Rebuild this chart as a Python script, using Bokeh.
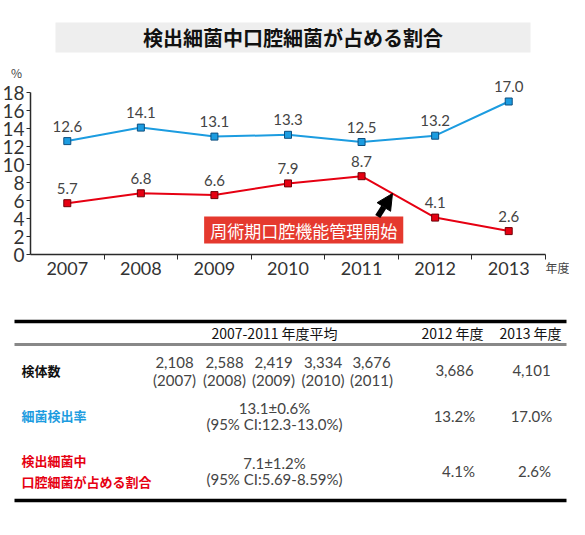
from bokeh.plotting import figure
from bokeh.models import Range1d, FixedTicker, Arrow, NormalHead, ColumnDataSource
from bokeh.core.properties import value
from bokeh.embed import file_html
from bokeh.resources import INLINE

# ---------------- data ----------------
years = ["2007", "2008", "2009", "2010", "2011", "2012", "2013"]
bacteria_detection_rate = [12.6, 14.1, 13.1, 13.3, 12.5, 13.2, 17.0]
oral_bacteria_share = [5.7, 6.8, 6.6, 7.9, 8.7, 4.1, 2.6]
y_ticks = [0, 2, 4, 6, 8, 10, 12, 14, 16, 18]

title_text = "検出細菌中口腔細菌が占める割合"
annotation_text = "周術期口腔機能管理開始"
y_unit = "%"
x_unit = "年度"

table_header = ["2007-2011 年度平均", "2012 年度", "2013 年度"]
row_labels = ["検体数", "細菌検出率", "検出細菌中", "口腔細菌が占める割合"]
specimen_counts_0711 = ["2,108", "2,588", "2,419", "3,334", "3,676"]
specimen_years_0711 = ["(2007)", "(2008)", "(2009)", "(2010)", "(2011)"]
specimen_counts_1213 = ["3,686", "4,101"]
detection_mean_ci = ["13.1±0.6%", "(95% CI:12.3-13.0%)"]
detection_1213 = ["13.2%", "17.0%"]
share_mean_ci = ["7.1±1.2%", "(95% CI:5.69-8.59%)"]
share_1213 = ["4.1%", "2.6%"]

# ---------------- style ----------------
CJK = "Noto Sans CJK JP"
NUM = "Lato"
BLUE = "#1c9ce0"
BLUE_EDGE = "#0d4f80"
RED = "#e60012"
RED_EDGE = "#6e0008"
BOX_RED = "#e5392e"
AXIS = "#2a2a2a"
TXT = "#444444"

W, H = 569, 519
LEFT = 30          # pixel x of the y axis
AXIS_Y = 254       # pixel y of the x axis
AXIS_END = 545     # pixel x where the x axis ends
PX = (AXIS_END - LEFT) / 7.0
PY = 9.0


def dx(px):          # pixel -> data x
    return -0.5 + (px - LEFT) / PX


def dxr(px):         # reference pixel (75 px per year) -> data x
    return -0.5 + (px - 30) / 75.0


def dy(py):          # pixel -> data y
    return (AXIS_Y - py) / PY


x_idx = list(range(len(years)))
src = ColumnDataSource(dict(
    x=x_idx,
    blue=bacteria_detection_rate,
    red=oral_bacteria_share,
    blue_lbl=[f"{v:.1f}" for v in bacteria_detection_rate],
    red_lbl=[f"{v:.1f}" for v in oral_bacteria_share],
))

p = figure(width=W, height=H,
           x_range=Range1d(dx(0), dx(W)), y_range=Range1d(dy(H), dy(0)),
           output_backend="svg", toolbar_location=None, min_border=0)
p.outline_line_color = None
p.xgrid.visible = False
p.ygrid.visible = False
p.background_fill_color = "white"

# ---- axes, drawn at fixed locations inside the frame ----
xa = p.xaxis[0]
xa.fixed_location = 0
xa.ticker = FixedTicker(ticks=x_idx, minor_ticks=[i + 0.5 for i in x_idx])
xa.major_label_overrides = {i: y for i, y in enumerate(years)}
xa.bounds = (-0.5, len(years) - 0.5)
xa.major_tick_out = 0
xa.major_tick_in = 0
xa.minor_tick_out = 5
xa.minor_tick_in = 0
xa.minor_tick_line_color = AXIS
xa.axis_line_color = AXIS
xa.axis_line_width = 1.5
xa.major_label_standoff = 2
xa.major_label_text_font = NUM
xa.major_label_text_font_size = "18px"
xa.major_label_text_color = "#333333"

ya = p.yaxis[0]
ya.fixed_location = -0.5
ya.ticker = FixedTicker(ticks=y_ticks)
ya.bounds = (0, 18)
ya.major_tick_out = 4
ya.major_tick_in = 0
ya.minor_tick_out = 0
ya.minor_tick_in = 0
ya.major_tick_line_color = AXIS
ya.axis_line_color = AXIS
ya.axis_line_width = 1.5
ya.major_label_standoff = 2
ya.major_label_text_font = NUM
ya.major_label_text_font_size = "19px"
ya.major_label_text_color = "#333333"

# ---- title ----
p.quad(left=[dx(55)], right=[dx(530)], top=[dy(22)], bottom=[dy(52)],
       fill_color="#eeeeee", line_color=None)
p.text(x=[dx(292.5)], y=[dy(37)], text=[title_text], text_align="center",
       text_baseline="middle", text_font=value(CJK), text_font_size="20px",
       text_font_style="bold", text_color="#111111")

# ---- units ----
p.text(x=[dx(16)], y=[dy(72)], text=[y_unit], text_align="center", text_baseline="middle",
       text_font=value(CJK), text_font_size="12px", text_color=TXT)
p.text(x=[dx(557)], y=[dy(267)], text=[x_unit], text_align="center", text_baseline="middle",
       text_font=value(CJK), text_font_size="12px", text_color=TXT)

# ---- series ----
p.line("x", "blue", source=src, line_color=BLUE, line_width=2)
p.scatter("x", "blue", source=src, marker="square", size=7,
          fill_color=BLUE, line_color=BLUE_EDGE, line_width=1)
p.line("x", "red", source=src, line_color=RED, line_width=2)
p.scatter("x", "red", source=src, marker="square", size=7,
          fill_color=RED, line_color=RED_EDGE, line_width=1)
for col in ("blue_lbl", "red_lbl"):
    ycol = col.split("_")[0]
    p.text("x", ycol, text=col, source=src, y_offset=-15, text_align="center",
           text_baseline="middle", text_font=value(NUM), text_font_size="15px",
           text_color=TXT)

# ---- annotation box + arrow ----
p.quad(left=[dxr(207)], right=[dxr(410)], top=[dy(216)], bottom=[dy(243)],
       fill_color=BOX_RED, line_color=None)
p.text(x=[dxr(308.5)], y=[dy(230)], text=[annotation_text], text_align="center",
       text_baseline="middle", text_font=value(CJK), text_font_size="17px",
       text_color="white")
p.add_layout(Arrow(end=NormalHead(size=16, fill_color="black", line_color="black"),
                   x_start=dxr(384), y_start=dy(216), x_end=dxr(399), y_end=dy(193),
                   line_width=6, line_color="black"))

# ---------------- table ----------------
p.segment(x0=[dx(14)] * 2, x1=[dx(566)] * 2, y0=[dy(321), dy(500)], y1=[dy(321), dy(500)],
          line_color="black", line_width=3.5)
p.segment(x0=[dx(14)], x1=[dx(566)], y0=[dy(344)], y1=[dy(344)],
          line_color="#888888", line_width=3)


def ttext(xs, ys, texts, font=CJK, size="14px", color="#222222", align="center",
          bold=False):
    p.text(x=[dx(v) for v in xs], y=[dy(v) for v in ys], text=texts,
           text_align=align, text_baseline="middle",
           text_font=value(font), text_font_size=size, text_color=color,
           text_font_style="bold" if bold else "normal")


# header
ttext([274, 452, 530], [332, 332, 332], table_header, size="14px", color="#111111")
# row labels
ttext([21], [370], [row_labels[0]], size="13px", color="#111111", align="left", bold=True)
ttext([21], [415], [row_labels[1]], size="13px", color=BLUE, align="left", bold=True)
ttext([21, 21], [460, 481], row_labels[2:], size="13px", color=RED, align="left", bold=True)
# row 1
cols = [174, 224, 273, 322.5, 371]
ttext(cols, [362] * 5, specimen_counts_0711, font=NUM, size="15px", color=TXT)
ttext(cols, [379] * 5, specimen_years_0711, font=NUM, size="15px", color=TXT)
ttext([454, 531], [370, 370], specimen_counts_1213, font=NUM, size="15px", color=TXT)
# row 2
ttext([274, 274], [407, 423], detection_mean_ci, font=NUM, size="15px", color=TXT)
ttext([454, 531], [415, 415], detection_1213, font=NUM, size="15px", color=TXT)
# row 3
ttext([274, 274], [462, 478], share_mean_ci, font=NUM, size="15px", color=TXT)
ttext([458, 534], [470, 470], share_1213, font=NUM, size="15px", color=TXT)

open("out.html", "w").write(file_html(p, INLINE))
